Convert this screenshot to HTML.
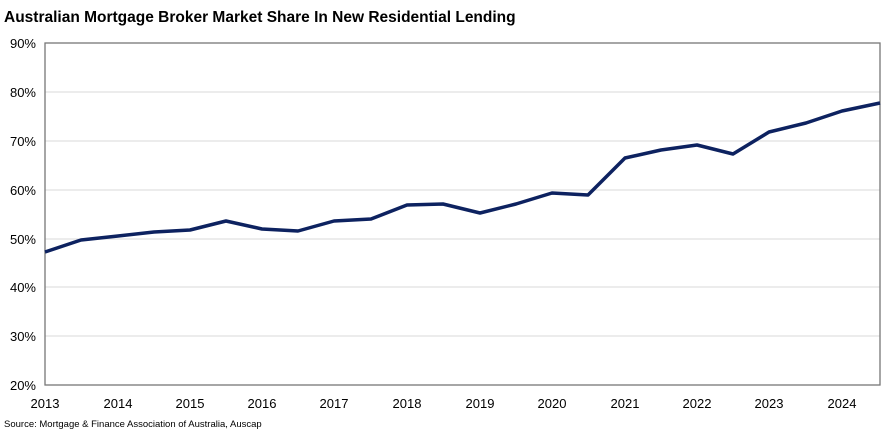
<!DOCTYPE html>
<html><head><meta charset="utf-8"><style>
html,body{margin:0;padding:0;background:#fff;width:885px;height:433px;overflow:hidden}
svg{display:block}
text{font-family:"Liberation Sans",Arial,sans-serif;fill:#000}
</style></head><body>
<svg width="885" height="433" viewBox="0 0 885 433">
<text x="4" y="22" font-size="15.5" font-weight="bold">Australian Mortgage Broker Market Share In New Residential Lending</text>
<g stroke="#e0e0e0" stroke-width="1.3">
<line x1="45" y1="92" x2="880" y2="92"/><line x1="45" y1="141" x2="880" y2="141"/>
<line x1="45" y1="190" x2="880" y2="190"/><line x1="45" y1="239" x2="880" y2="239"/>
<line x1="45" y1="287" x2="880" y2="287"/><line x1="45" y1="336" x2="880" y2="336"/>
</g>
<rect x="45" y="43" width="835" height="342" fill="none" stroke="#777" stroke-width="1.3"/>
<g font-size="13" text-anchor="end">
<text x="36" y="48">90%</text><text x="36" y="97">80%</text><text x="36" y="146">70%</text>
<text x="36" y="195">60%</text><text x="36" y="244">50%</text><text x="36" y="292">40%</text>
<text x="36" y="341">30%</text><text x="36" y="390">20%</text>
</g>
<g font-size="13" text-anchor="middle">
<text x="45" y="408">2013</text><text x="118" y="408">2014</text><text x="190" y="408">2015</text>
<text x="262" y="408">2016</text><text x="334" y="408">2017</text><text x="407" y="408">2018</text>
<text x="480" y="408">2019</text><text x="552" y="408">2020</text><text x="625" y="408">2021</text>
<text x="697" y="408">2022</text><text x="769" y="408">2023</text><text x="842" y="408">2024</text>
</g>
<text x="4" y="427" font-size="9.5">Source: Mortgage &amp; Finance Association of Australia, Auscap</text>
<polyline fill="none" stroke="#0d2260" stroke-width="3.5" stroke-linejoin="round"
points="45,252 81,240 118,236 154,232 190,230 226,221 262,229 298,231 334,221 371,219 407,205 443,204 480,213 516,204 552,193 588,195 625,158 661,150 697,145 733,154 769,132 806,123 842,111 880,103"/>
</svg>
</body></html>
